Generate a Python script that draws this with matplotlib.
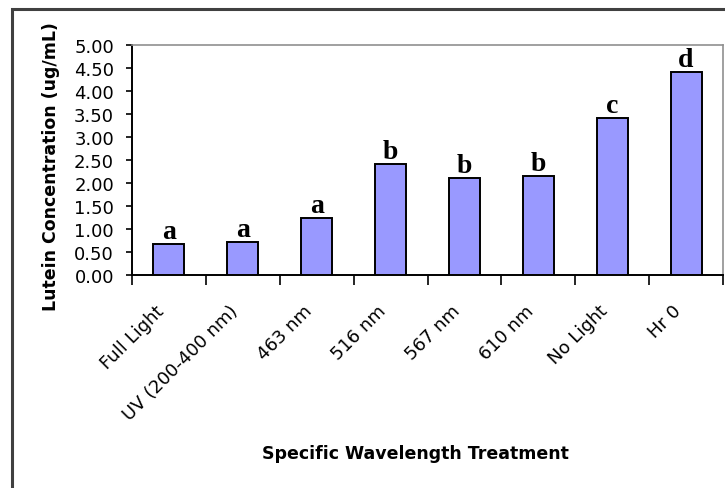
import numpy as np
import matplotlib
matplotlib.use("Agg")
import matplotlib.pyplot as plt
import matplotlib.transforms as mtransforms
from matplotlib.patches import Rectangle

# data
treatments = ["Full Light", "UV (200-400 nm)", "463 nm", "516 nm",
              "567 nm", "610 nm", "No Light", "Hr 0"]
lutein = [0.67, 0.72, 1.23, 2.41, 2.11, 2.15, 3.41, 4.42]
groups = ["a", "a", "a", "b", "b", "b", "c", "d"]
yticks = [0.0, 0.5, 1.0, 1.5, 2.0, 2.5, 3.0, 3.5, 4.0, 4.5, 5.0]

W, H = 725, 489
fig = plt.figure(figsize=(W / 100, H / 100), dpi=100)
fig.patch.set_facecolor("white")

# outer chart frame (runs off the right and bottom edges)
fig.patches.append(Rectangle((12 / W, -0.1), 1.2, 1 - 10 / H + 0.1,
                             transform=fig.transFigure, fill=False,
                             edgecolor="#404040", linewidth=2.2))

ax = fig.add_axes([132 / W, 1 - 276 / H, (723 - 132) / W, (276 - 46) / H])

x = np.arange(len(treatments))
bars = ax.bar(x, lutein, width=0.42, color="#9999FF", edgecolor="black",
              linewidth=1.4, zorder=3)

for rect, g in zip(bars, groups):
    ax.annotate(g, (rect.get_x() + rect.get_width() / 2, rect.get_height()),
                xytext=(0, 0), textcoords="offset points",
                ha="center", va="bottom", fontsize=20, fontweight="bold",
                family="Liberation Serif")

ax.set_xlim(-0.5, len(treatments) - 0.5)
ax.set_ylim(0, 5)

ax.set_yticks(yticks)
ax.set_yticklabels([f"{v:.2f}" for v in yticks], fontsize=13)
ax.tick_params(axis="y", direction="out", length=4.5, width=1.2, pad=8.5)

# ticks on category boundaries, labels on the category centres
ax.set_xticks(np.arange(len(treatments) + 1) - 0.5)
ax.set_xticklabels([])
ax.tick_params(axis="x", which="major", direction="out", length=7, width=1.2)
ax.set_xticks(x, minor=True)
ax.set_xticklabels(treatments, minor=True, rotation=45, ha="right",
                   rotation_mode="anchor", fontsize=13)
ax.tick_params(axis="x", which="minor", length=0, pad=19)
shift = mtransforms.ScaledTranslation(-14 / 100, 0, fig.dpi_scale_trans)
for lbl in ax.get_xticklabels(minor=True):
    lbl.set_transform(lbl.get_transform() + shift)

for side in ["top", "right"]:
    ax.spines[side].set_color("#909090")
    ax.spines[side].set_linewidth(1.2)
for side in ["left", "bottom"]:
    ax.spines[side].set_color("black")
    ax.spines[side].set_linewidth(1.4)

fig.text(51 / W, 1 - 167 / H, "Lutein Concentration (ug/mL)", rotation=90,
         ha="center", va="center", fontsize=12.5, fontweight="bold")
fig.text(415 / W, 1 - 454 / H, "Specific Wavelength Treatment",
         ha="center", va="center", fontsize=12.5, fontweight="bold")

fig.savefig("out.png", dpi=100)
